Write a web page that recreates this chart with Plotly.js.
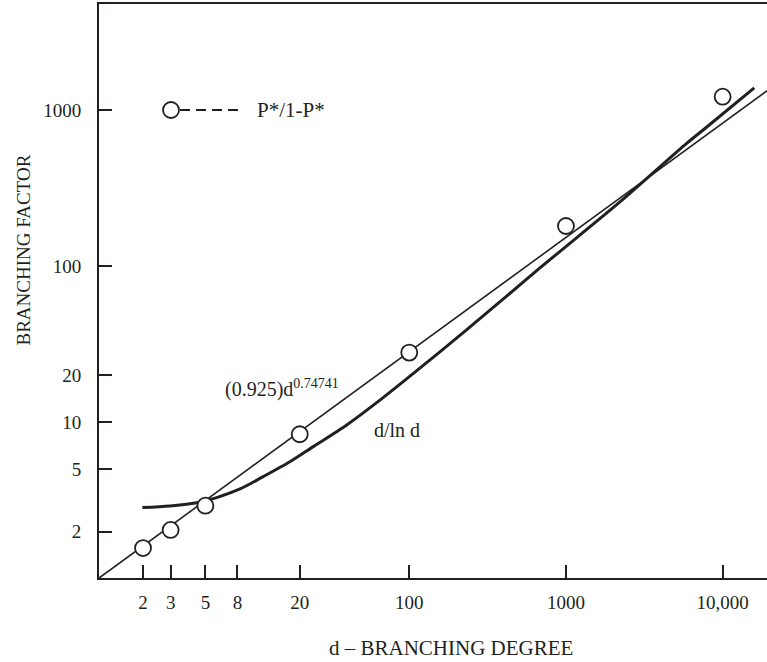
<!DOCTYPE html>
<html>
<head>
<meta charset="utf-8">
<script src="https://cdn.plot.ly/plotly-3.0.1.min.js"></script>
<style>html,body{margin:0;padding:0;background:#fff;}#chart{width:767px;height:662px;}</style>
</head>
<body>
<div id="chart"></div>
<script>
// Observed P*/1-P* points
const degree = [2, 3, 5, 20, 100, 1000, 10000];
const pRatio = [1.57, 2.05, 2.93, 8.4, 28.0, 181, 1218];

// Fitted power law (0.925)d^0.74741
const fitD = [1.05, 2, 100, 19200];
const fitY = [1.01, 1.62, 28.4, 1330];

// d/ln d curve
const dlnD = [1.98, 2.97, 4.62, 5.90, 8.31, 11.7, 17.3, 24.4, 39.9, 65.0, 96.2, 232, 682, 2211, 5890, 7745, 15910];
const dlnY = [2.85, 2.92, 3.08, 3.30, 3.75, 4.5, 5.6, 7.0, 9.64, 13.9, 19.0, 39.1, 97.5, 258, 611, 765, 1385];

// Axis ticks
const xTickVals = [2, 3, 5, 8, 20, 100, 1000, 10000];
const xTickText = ['2', '3', '5', '8', '20', '100', '1000', '10,000'];
const yTickVals = [2, 5, 10, 20, 100, 1000];
const yTickText = ['2', '5', '10', '20', '100', '1000'];

const ink = '#231f20';
const serif = 'Liberation Serif, Times New Roman, serif';

const traces = [
  {x: fitD, y: fitY, mode: 'lines', line: {color: ink, width: 1.6}, hoverinfo: 'skip', showlegend: false},
  {x: dlnD, y: dlnY, mode: 'lines', line: {color: ink, width: 3, shape: 'spline', smoothing: 0.8}, hoverinfo: 'skip', showlegend: false},
  {x: degree, y: pRatio, mode: 'markers', marker: {size: 16, color: '#ffffff', line: {color: ink, width: 1.8}}, showlegend: false}
];

const layout = {
  width: 767, height: 662,
  margin: {l: 99, r: 0, t: 4, b: 84},
  paper_bgcolor: '#ffffff', plot_bgcolor: '#ffffff',
  font: {family: serif, size: 20, color: ink},
  xaxis: {
    type: 'log', range: [0.02, 4.283],
    tickvals: xTickVals, ticktext: xTickText,
    ticks: 'inside', ticklen: 13, tickwidth: 2, tickcolor: ink,
    showline: true, linewidth: 2, linecolor: ink, mirror: true,
    showgrid: false, zeroline: false,
    tickfont: {family: serif, size: 19, color: ink},
    ticklabelstandoff: 6
  },
  yaxis: {
    type: 'log', range: [0.004, 3.679],
    tickvals: yTickVals, ticktext: yTickText,
    ticks: 'inside', ticklen: 13, tickwidth: 2, tickcolor: ink,
    showline: true, linewidth: 2, linecolor: ink, mirror: false,
    showgrid: false, zeroline: false,
    tickfont: {family: serif, size: 19, color: ink},
    ticklabelstandoff: 12
  },
  shapes: [
    {type: 'circle', xref: 'paper', yref: 'paper', xsizemode: 'pixel', ysizemode: 'pixel',
     xanchor: 0.1078, yanchor: 0.8153, x0: -8, x1: 8, y0: -8, y1: 8,
     line: {color: ink, width: 1.8}, fillcolor: '#ffffff'},
    {type: 'line', xref: 'paper', yref: 'paper', x0: 0.1213, x1: 0.2081, y0: 0.8153, y1: 0.8153,
     line: {color: ink, width: 2, dash: '10px,6px'}}
  ],
  annotations: [
    {xref: 'paper', yref: 'paper', x: 0.2335, y: 0.8153, xanchor: 'left', yanchor: 'middle',
     text: 'P*/1-P*', showarrow: false, font: {family: serif, size: 21, color: ink}},
    {xref: 'paper', yref: 'paper', x: 0.1856, y: 0.3293, xanchor: 'left', yanchor: 'middle',
     text: '(0.925)d<sup>0.74741</sup>', showarrow: false, font: {family: serif, size: 20, color: ink}},
    {xref: 'paper', yref: 'paper', x: 0.408, y: 0.2578, xanchor: 'left', yanchor: 'middle',
     text: 'd/ln d', showarrow: false, font: {family: serif, size: 20, color: ink}},
    {xref: 'paper', yref: 'paper', x: -0.1123, y: 0.5723, xanchor: 'center', yanchor: 'middle',
     text: 'BRANCHING FACTOR', textangle: -90, showarrow: false, font: {family: serif, size: 19, color: ink}},
    {xref: 'paper', yref: 'paper', x: 0.527, y: -0.122, xanchor: 'center', yanchor: 'middle',
     text: 'd – BRANCHING DEGREE', showarrow: false, font: {family: serif, size: 21, color: ink}}
  ]
};

Plotly.newPlot('chart', traces, layout, {displayModeBar: false, staticPlot: true});
</script>
</body>
</html>
